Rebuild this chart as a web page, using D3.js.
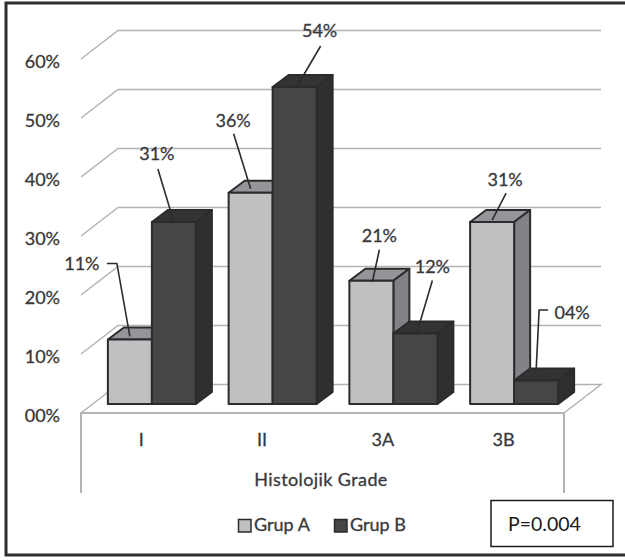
<!DOCTYPE html>
<html>
<head>
<meta charset="utf-8">
<script src="https://cdn.jsdelivr.net/npm/d3@7"></script>
<style>
  html, body { margin: 0; padding: 0; background: #fff; }
  svg { display: block; }
  text { font-family: Lato, "Open Sans", sans-serif; fill: #38383a; stroke: #38383a; stroke-width: 0.3px; }
</style>
</head>
<body>
<svg id="chart" width="625" height="560"></svg>
<script>
const categories = ["I", "II", "3A", "3B"];
const seriesNames = ["Grup A", "Grup B"];
const grupA = [11, 36, 21, 31];
const grupB = [31, 54, 12, 4];
const tickValues = [0, 10, 20, 30, 40, 50, 60];
const axisTitle = "Histolojik Grade";
const pValue = "P=0.004";

const fills = {
  "Grup A": { front: "#bfc0c2", top: "#939598", side: "#808285" },
  "Grup B": { front: "#464648", top: "#333335", side: "#2f2f30" }
};
const edge = "#2b2b2d";
const gridGray = "#b2b3b5";
const fontSize = 18;

// Oblique projection of the chart box
const depth = { x: 37, y: -28.5 };
const barDepth = { x: 16, y: -12 };
const floorY = 413;
const barBaseY = 404;
const pxPerUnit = 5.9;

const svg = d3.select("#chart");

const x0 = d3.scaleBand().domain(categories).range([81, 564]);
const x1 = d3.scaleBand().domain(seriesNames).range([0, 88]);
const yFront = d3.scaleLinear().domain([0, 60]).range([floorY, floorY - 60 * pxPerUnit]);
const yBar = d3.scaleLinear().domain([0, 60]).range([barBaseY, barBaseY - 60 * 5.87]);

const percent = v => d3.format("02d")(v) + "%";

// Outer frame
svg.append("rect")
  .attr("x", 6).attr("y", 3).attr("width", 640).attr("height", 552)
  .attr("fill", "#fff").attr("stroke", "#2e2c2d").attr("stroke-width", 3);

// Gridlines run along the left wall and then across the back wall
const grid = svg.append("g").attr("fill", "none").attr("stroke", gridGray).attr("stroke-width", 1.5);
const xL = x0.range()[0], xR = x0.range()[1];
grid.selectAll("polyline.grid")
  .data(tickValues)
  .join("polyline")
  .attr("class", "grid")
  .attr("points", d => {
    const f = yFront(d), b = f + depth.y;
    return d === 0
      ? [[xL, f], [xL + depth.x, b], [xR + depth.x, b], [xR, f]].join(" ")
      : [[xL, f], [xL + depth.x, b], [xR + depth.x, b]].join(" ");
  });

// Front edge of the floor and the two drop lines beneath it
grid.append("path")
  .attr("stroke-width", 2)
  .attr("d", d3.line()([[xL, 493], [xL, floorY], [xR, floorY], [xR, 493]]));

// Value axis, placed on the front edge of the left wall
const yAxis = d3.axisLeft(yFront).tickValues(tickValues).tickSize(0).tickPadding(0).tickFormat(percent);
const axisG = svg.append("g").attr("transform", "translate(60,2.3)").call(yAxis);
axisG.select(".domain").remove();
axisG.selectAll("text").style("font-size", fontSize + "px");
axisG.attr("font-family", null);

// Category labels
const xAxis = d3.axisBottom(x0).tickSize(0).tickPadding(0);
const xAxisG = svg.append("g").attr("transform", "translate(0,433)").call(xAxis);
xAxisG.select(".domain").remove();
xAxisG.selectAll("text").style("font-size", fontSize + "px");
xAxisG.attr("font-family", null);

// Bars: each is a front face, a top face and a right side face
const rows = categories.flatMap((c, i) => [
  { category: c, series: seriesNames[0], value: grupA[i] },
  { category: c, series: seriesNames[1], value: grupB[i] }
]);
const barOffset = 10.5;
const barX = d => x0(d.category) + x0.bandwidth() / 2 + barOffset - x1.bandwidth() + x1(d.series);
const w = x1.bandwidth();

const bars = svg.append("g").attr("stroke", edge).attr("stroke-width", 2).attr("stroke-linejoin", "round")
  .selectAll("g").data(rows).join("g");

bars.append("path")
  .attr("fill", d => fills[d.series].top)
  .attr("d", d => {
    const l = barX(d), t = yBar(d.value);
    return d3.line()([[l, t], [l + barDepth.x, t + barDepth.y], [l + w + barDepth.x, t + barDepth.y], [l + w, t]]) + "Z";
  });
bars.append("path")
  .attr("fill", d => fills[d.series].side)
  .attr("d", d => {
    const r = barX(d) + w, t = yBar(d.value), b = yBar(0);
    return d3.line()([[r, t], [r + barDepth.x, t + barDepth.y], [r + barDepth.x, b + barDepth.y], [r, b]]) + "Z";
  });
bars.append("rect")
  .attr("fill", d => fills[d.series].front)
  .attr("x", barX)
  .attr("y", d => yBar(d.value))
  .attr("width", w)
  .attr("height", d => yBar(0) - yBar(d.value));

// Value labels and their leader lines, offset from the top centre of each bar
const labelPlacement = [
  { lx: -48, ly: -69, line: [[-23, -76], [-13, -76], [0, -3]] },
  { lx: -17, ly: -62, line: [[-16, -53], [0, 0]] },
  { lx: -17.5, ly: -66, line: [[-17, -59], [0, -4]] },
  { lx: 25, ly: -50, line: [[26, -41], [2, 0]] },
  { lx: 8, ly: -39, line: [[8, -31], [1, 1]] },
  { lx: 17, ly: -60.5, line: [[17, -53], [1, 1]] },
  { lx: 13, ly: -36.5, line: [[14, -29], [0, -2]] },
  { lx: 36, ly: -62, line: [[12, -70.5], [3, -70.5], [0, -10]] }
];

const callouts = svg.append("g").selectAll("g").data(rows).join("g")
  .attr("transform", d => `translate(${barX(d) + w / 2},${yBar(d.value)})`);

callouts.append("path")
  .attr("fill", "none").attr("stroke", edge).attr("stroke-width", 1.6)
  .attr("d", (d, i) => d3.line()(labelPlacement[i].line));

callouts.append("text")
  .attr("x", (d, i) => labelPlacement[i].lx)
  .attr("y", (d, i) => labelPlacement[i].ly)
  .attr("text-anchor", "middle")
  .attr("font-size", fontSize)
  .text(d => percent(d.value));

// Axis title
svg.append("text")
  .attr("x", 321).attr("y", 485.5)
  .attr("text-anchor", "middle").attr("font-size", fontSize)
  .attr("letter-spacing", 0.4)
  .text(axisTitle);

// Legend
const legendX = d3.scaleOrdinal().domain(seriesNames).range([238, 334]);
const legend = svg.append("g").selectAll("g").data(seriesNames).join("g")
  .attr("transform", d => `translate(${legendX(d)},519)`);
legend.append("rect")
  .attr("x", 0.5).attr("y", 0.5).attr("width", 12.5).attr("height", 12.5)
  .attr("fill", d => fills[d].front).attr("stroke", edge).attr("stroke-width", 1.5);
legend.append("text")
  .attr("x", 16).attr("y", 11.5).attr("font-size", fontSize)
  .text(d => d);

// Significance box
svg.append("rect")
  .attr("x", 491).attr("y", 500.5).attr("width", 122).attr("height", 46)
  .attr("fill", "#fff").attr("stroke", "#1c1c1c").attr("stroke-width", 1.5);
svg.append("text")
  .attr("x", 508).attr("y", 530.5).attr("font-size", 19.5)
  .style("fill", "#1a1a1a").style("stroke", "none")
  .text(pValue);
</script>
</body>
</html>
